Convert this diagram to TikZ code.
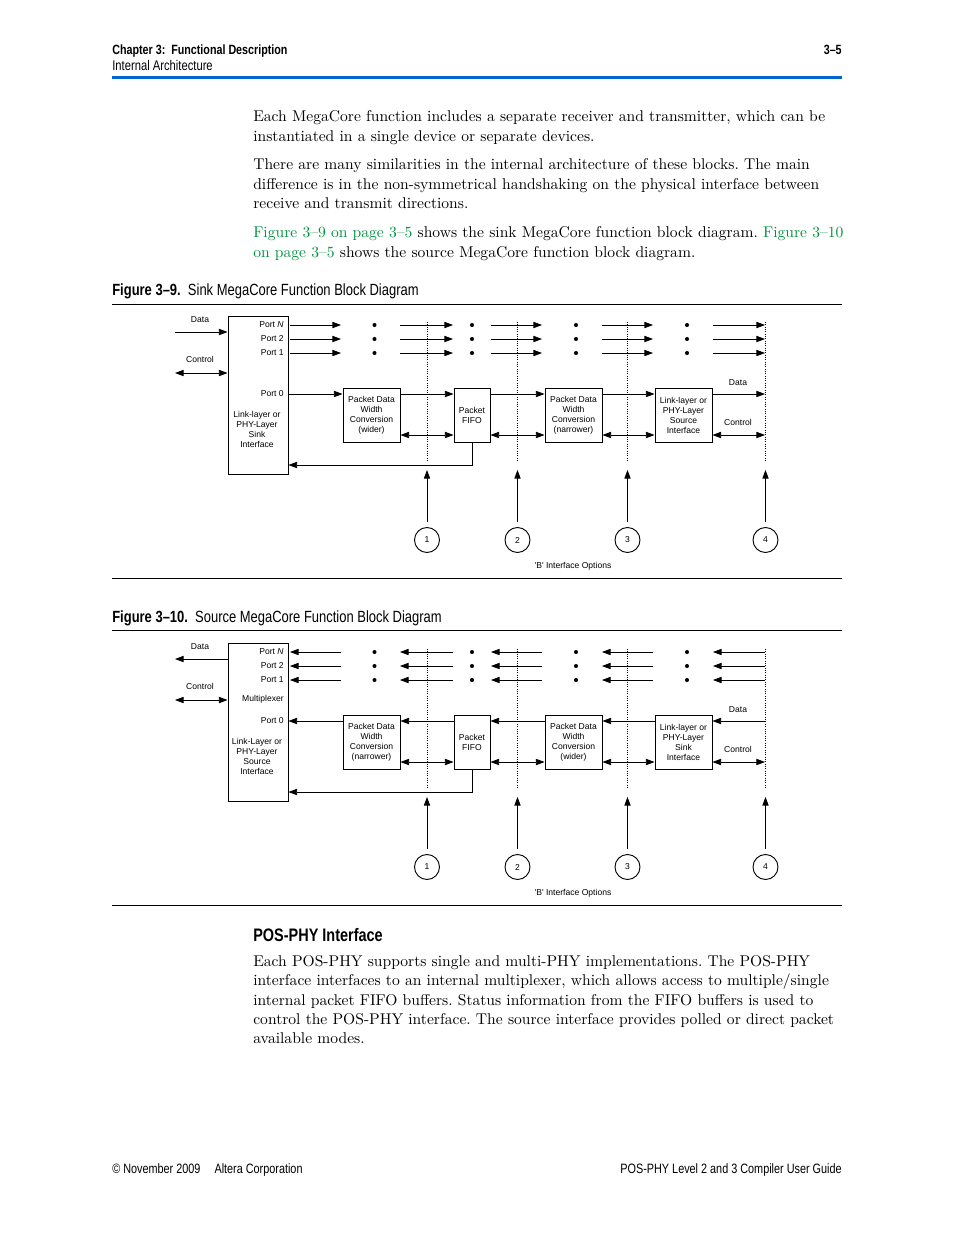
\documentclass[tikz,border=0pt]{standalone}
\usepackage{fontspec}
\newfontfamily\condfont[FakeStretch=0.8]{Liberation Sans}
\newfontfamily\diafont{Liberation Sans}
\usetikzlibrary{arrows.meta}
\definecolor{altblue}{RGB}{0,102,204}
\definecolor{linkgreen}{RGB}{0,146,63}
\frenchspacing

\begin{document}
\begin{tikzpicture}[x=0.6415pt, y=-0.6415pt,
    tip/.style={-{Triangle[length=5.5pt,width=4pt]}},
    ltip/.style={{Triangle[length=5.5pt,width=4pt]}-},
    both/.style={{Triangle[length=5.5pt,width=4pt]}-{Triangle[length=5.5pt,width=4pt]}},
    lbl/.style={font=\diafont\fontsize{5.5}{6.4}\selectfont, inner sep=0pt},
    blk/.style={draw, line width=0.6pt, lbl, align=center, minimum height=54*0.6415pt},
    opt/.style={circle, draw, line width=0.6pt, lbl, minimum size=25*0.6415pt},
    body/.style={anchor=base west, inner sep=0pt, font=\fontsize{10}{12.4}\selectfont},
    hd/.style={inner sep=0pt, font=\condfont\fontsize{9}{11}\selectfont}]
    \fill[white] (0,0) rectangle (954,1235);
    \useasboundingbox (0,0) rectangle (954,1235);

    % page header
    \node[hd, anchor=base west, font=\condfont\bfseries\fontsize{8.6}{11}\selectfont] (chap) at (112,54.5) {Chapter 3:\ \ Functional Description};
    \node[hd, anchor=base west] (sect) at (112,70.5) {Internal Architecture};
    \node[hd, anchor=base east, font=\condfont\bfseries\fontsize{8.6}{11}\selectfont] (pg) at (842,54.5) {3–5};
    \draw[altblue, line width=1.3pt] (112,77.5) -- (842,77.5);

    % text above the figures
    \foreach \y/\txt in {
        121/{Each MegaCore function includes a separate receiver and transmitter, which can be},
        141/{instantiated in a single device or separate devices.},
        169/{There are many similarities in the internal architecture of these blocks. The main},
        189/{difference is in the non-symmetrical handshaking on the physical interface between},
        208/{receive and transmit directions.},
        237/{\textcolor{linkgreen}{Figure 3–9 on page 3–5} shows the sink MegaCore function block diagram. \textcolor{linkgreen}{Figure 3–10}},
        257/{\textcolor{linkgreen}{on page 3–5} shows the source MegaCore function block diagram.}}
    {
        \node[body] (txt\y) at (253,\y) {\txt};
    }

    % captions and rules
    \node[hd, anchor=base west, font=\condfont\fontsize{10.4}{12}\selectfont] (cap1) at (112,295) {\textbf{Figure 3–9.}\ \ Sink MegaCore Function Block Diagram};
    \node[hd, anchor=base west, font=\condfont\fontsize{10.4}{12}\selectfont] (cap2) at (112,622) {\textbf{Figure 3–10.}\ \ Source MegaCore Function Block Diagram};
    \foreach \ry in {304.5,578,630.5,905.5}
        \draw[line width=0.6pt] (112,\ry) -- (842,\ry);

    % the two block diagrams
    \foreach \f/\dy/\ifctxt/\convA/\convB/\phytxt in {
        1/0/{Link-layer or\\PHY-Layer\\Sink\\Interface}/{(wider)}/{(narrower)}/{Source},
        2/327/{Link-Layer or\\PHY-Layer\\Source\\Interface}/{(narrower)}/{(wider)}/{Sink}}
    {
        \begin{scope}[shift={(0,\dy)}]
        \ifnum\f=1 \tikzset{flow/.style={tip}}\else \tikzset{flow/.style={ltip}}\fi
        \node[draw, line width=0.6pt, minimum width=60*0.6415pt, minimum height=158*0.6415pt] (ifc\f) at (258,395) {};
        \node[lbl, align=center] (ifct\f) at (257,429) {\ifctxt};
        \foreach \py/\pl in {325/{Port \textit{N}},339/{Port 2},353/{Port 1},394/{Port 0}}
            \node[lbl, anchor=east] (port\f-\py) at (284,\py) {\pl};
        \ifnum\f=2 \node[lbl, anchor=east] (mux) at (284,372) {Multiplexer};\fi

        \node[blk, minimum width=57*0.6415pt] (convA\f) at (371.5,415) {Packet Data\\Width\\Conversion\\\convA};
        \node[blk, minimum width=36*0.6415pt] (fifo\f) at (472,415) {Packet\\FIFO};
        \node[blk, minimum width=57*0.6415pt] (convB\f) at (573.5,415) {Packet Data\\Width\\Conversion\\\convB};
        \node[blk, minimum width=57*0.6415pt] (phy\f) at (683.5,415) {Link-layer or\\PHY-Layer\\\phytxt\\Interface};

        \coordinate (dr\f) at (0,394);
        \coordinate (cr\f) at (0,435);
        \coordinate (fb\f) at (0,465);
        \coordinate (dend\f) at (765,394);
        \coordinate (cend\f) at (765,435);
        \coordinate (lin\f) at (175,332);
        \coordinate (lctl\f) at (175,373);

        % outside world on the left
        \node[lbl] (ldata\f) at (200,320) {Data};
        \node[lbl] (lctrl\f) at (200,359) {Control};
        \draw[flow, line width=0.5pt] (lin\f) -- (ifc\f.west |- lin\f);
        \draw[both, line width=0.5pt] (lctl\f) -- (ifc\f.west |- lctl\f);

        % port rows
        \foreach \py in {325,339,353} {
            \foreach \a/\b in {290/341,400/453,491/542,602/653,713/765} {
                \coordinate (ps) at (\a,\py);
                \coordinate (pe) at (\b,\py);
                \draw[flow, line width=0.5pt] (ps) -- (pe);
            }
            \foreach \dx in {374.5,472,576,687}
                \fill (\dx,\py) circle (1.3pt);
        }

        % data and control through the blocks
        \draw[flow, line width=0.5pt] (ifc\f.east |- dr\f) -- (convA\f.west |- dr\f);
        \foreach \a/\b in {convA/fifo,fifo/convB,convB/phy} {
            \draw[flow, line width=0.5pt] (\a\f.east |- dr\f) -- (\b\f.west |- dr\f);
            \draw[both, line width=0.5pt] (\a\f.east |- cr\f) -- (\b\f.west |- cr\f);
        }
        \draw[flow, line width=0.5pt] (phy\f.east |- dr\f) -- (dend\f);
        \draw[both, line width=0.5pt] (phy\f.east |- cr\f) -- (cend\f);
        \draw[tip, line width=0.5pt] (fifo\f.south) |- (ifc\f.east |- fb\f);
        \node[lbl] (rdata\f) at (738,383) {Data};
        \node[lbl] (rctrl\f) at (738,422) {Control};

        % 'B' interface options
        \foreach \i/\vx in {1/427,2/517.5,3/627.5,4/765.5} {
            \coordinate (vt\f\i) at (\vx,322);
            \coordinate (vb\f\i) at (\vx,462);
            \draw[line width=0.5pt, dash pattern=on 0.5pt off 1pt] (vt\f\i) -- (vb\f\i);
            \node[opt] (opt\f\i) at (\vx,540) {\i};
            \coordinate (ot\f\i) at (\vx,470);
            \draw[tip, line width=0.5pt, shorten <=3.5pt] (opt\f\i) -- (ot\f\i);
        }
        \node[lbl] (bopt\f) at (573,566) {'B' Interface Options};
        \end{scope}
    }

    % section below the figures
    \node[hd, anchor=base west, font=\condfont\bfseries\fontsize{11.6}{14}\selectfont] (sec) at (253,941.5) {POS-PHY Interface};
    \foreach \y/\txt in {
        966/{Each POS-PHY supports single and multi-PHY implementations. The POS-PHY},
        985/{interface interfaces to an internal multiplexer, which allows access to multiple/single},
        1005/{internal packet FIFO buffers. Status information from the FIFO buffers is used to},
        1024/{control the POS-PHY interface. The source interface provides polled or direct packet},
        1043/{available modes.}}
    {
        \node[body] (txt\y) at (253,\y) {\txt};
    }

    % page footer
    \node[hd, anchor=base west, font=\condfont\fontsize{8.7}{11}\selectfont] (foot) at (112,1173.5) {© November 2009\hspace{9pt}Altera Corporation};
    \node[hd, anchor=base east, font=\condfont\fontsize{8.7}{11}\selectfont] (guide) at (842,1173.5) {POS-PHY Level 2 and 3 Compiler User Guide};
\end{tikzpicture}
\end{document}
